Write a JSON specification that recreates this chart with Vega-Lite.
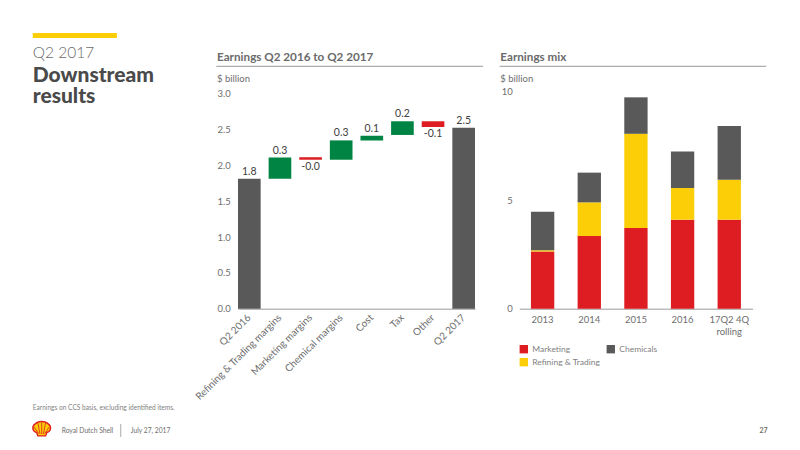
{
  "$schema": "https://vega.github.io/schema/vega-lite/v6.json",
  "description": "Shell Q2 2017 downstream results slide",
  "padding": {"left": 29.7, "top": 32.7, "right": 0, "bottom": 0},
  "background": "white",
  "bounds": "flush",
  "spacing": 44.3,
  "resolve": {"scale": {"color": "independent"}, "legend": {"color": "independent"}},
  "config": {
    "view": {"stroke": null},
    "font": "Lato",
    "axis": {"labelFont": "Lato", "grid": false, "ticks": false, "domainColor": "#999999", "labelColor": "#6e6e6e", "title": null, "labelOverlap": false},
    "title": {"font": "Lato", "subtitleFont": "Lato", "anchor": "start", "frame": "group", "fontSize": 11.7, "fontWeight": "bold", "color": "#6a6a6a", "subtitleFontSize": 9.5, "subtitleColor": "#6e6e6e", "subtitlePadding": 10.5, "offset": 3}
  },
  "hconcat": [
    {
      "width": 160.4,
      "height": 217,
      "encoding": {
        "x": {"datum": 0, "type": "quantitative", "scale": {"domain": [0, 1], "range": [-33, 767], "nice": false, "zero": false}, "axis": null},
        "y": {"datum": 0, "type": "quantitative", "scale": {"domain": [0, 1], "range": [-91.7, 358.3], "nice": false, "zero": false}, "axis": null}
      },
      "layer": [
        {
          "data": {"values": [{"part": "accent"}]},
          "mark": {"type": "rule", "color": "#fbce07", "strokeWidth": 5},
          "encoding": {"x": {"datum": 0.0413}, "x2": {"datum": 0.1465}, "y": {"datum": 0.0789}}
        },
        {
          "data": {"values": [{"text": "Q2 2017"}]},
          "mark": {"type": "text", "align": "left", "baseline": "middle", "fontSize": 15.5, "color": "#6a6a6a", "fontWeight": 300},
          "encoding": {"text": {"field": "text"}, "x": {"datum": 0.0413}, "y": {"datum": 0.1178}}
        },
        {
          "data": {"values": [{"text": "Downstream"}]},
          "mark": {"type": "text", "align": "left", "baseline": "middle", "fontSize": 21, "color": "#4a4a4a", "fontWeight": 900},
          "encoding": {"text": {"field": "text"}, "x": {"datum": 0.0413}, "y": {"datum": 0.1689}}
        },
        {
          "data": {"values": [{"text": "results"}]},
          "mark": {"type": "text", "align": "left", "baseline": "middle", "fontSize": 21, "color": "#4a4a4a", "fontWeight": 900},
          "encoding": {"text": {"field": "text"}, "x": {"datum": 0.0413}, "y": {"datum": 0.2155}}
        },
        {
          "data": {"values": [{"part": "waterfall heading"}]},
          "mark": {"type": "rule", "color": "#999999", "strokeWidth": 1},
          "encoding": {"x": {"datum": 0.2708}, "x2": {"datum": 0.6042}, "y": {"datum": 0.1473}}
        },
        {
          "data": {"values": [{"part": "mix heading"}]},
          "mark": {"type": "rule", "color": "#999999", "strokeWidth": 1},
          "encoding": {"x": {"datum": 0.625}, "x2": {"datum": 0.9583}, "y": {"datum": 0.1473}}
        },
        {
          "data": {"values": [{"text": "Earnings on CCS basis, excluding identified items."}]},
          "mark": {"type": "text", "align": "left", "baseline": "middle", "fontSize": 6.6, "color": "#7f7f7f"},
          "encoding": {"text": {"field": "text"}, "x": {"datum": 0.0413}, "y": {"datum": 0.9067}}
        },
        {
          "data": {"values": [{"text": "Royal Dutch Shell"}]},
          "mark": {"type": "text", "align": "left", "baseline": "middle", "fontSize": 6.7, "color": "#6e6e6e"},
          "encoding": {"text": {"field": "text"}, "x": {"datum": 0.0775}, "y": {"datum": 0.9567}}
        },
        {
          "data": {"values": [{"part": "footer separator"}]},
          "mark": {"type": "rule", "color": "#aaaaaa", "strokeWidth": 1},
          "encoding": {"x": {"datum": 0.1513}, "y": {"datum": 0.9422}, "y2": {"datum": 0.9711}}
        },
        {
          "data": {"values": [{"text": "July 27, 2017"}]},
          "mark": {"type": "text", "align": "left", "baseline": "middle", "fontSize": 6.7, "color": "#6e6e6e"},
          "encoding": {"text": {"field": "text"}, "x": {"datum": 0.1638}, "y": {"datum": 0.9567}}
        },
        {
          "data": {"values": [{"text": "27"}]},
          "mark": {"type": "text", "align": "right", "baseline": "middle", "fontSize": 7, "fontWeight": "bold", "color": "#6e6e6e"},
          "encoding": {"text": {"field": "text"}, "x": {"datum": 0.96}, "y": {"datum": 0.9567}}
        },
        {
          "data": {"values": [{"part": "logo"}]},
          "mark": {"type": "point", "filled": true, "size": 340, "fill": "#fbce07", "stroke": "#dd1d21", "strokeWidth": 1.4, "opacity": 1, "shape": "M-0.42,0.75 L0.42,0.75 L0.55,0.38 C1.05,0.25 1.08,-0.3 0.7,-0.55 C0.4,-0.9 -0.4,-0.9 -0.7,-0.55 C-1.08,-0.3 -1.05,0.25 -0.55,0.38 Z"},
          "encoding": {"x": {"datum": 0.0525}, "y": {"datum": 0.9533}}
        },
        {
          "data": {"values": [{"part": "logo ribs"}]},
          "mark": {"type": "point", "filled": false, "size": 340, "stroke": "#dd1d21", "strokeWidth": 0.8, "opacity": 1, "shape": "M0,0.55 L0,-0.7 M-0.18,0.55 L-0.42,-0.65 M0.18,0.55 L0.42,-0.65 M-0.32,0.5 L-0.8,-0.2 M0.32,0.5 L0.8,-0.2"},
          "encoding": {"x": {"datum": 0.0525}, "y": {"datum": 0.9533}}
        }
      ]
    },
    {
      "width": 237,
      "height": 217,
      "title": {"text": "Earnings Q2 2016 to Q2 2017", "subtitle": "$ billion", "dx": -21, "offset": 5.3},
      "data": {
        "values": [
          {"step": "Q2 2016", "low": 0, "high": 1.815, "label": "1.8", "kind": "total"},
          {"step": "Refining & Trading margins", "low": 1.815, "high": 2.11, "label": "0.3", "kind": "up"},
          {"step": "Marketing margins", "low": 2.08, "high": 2.115, "label": "-0.0", "kind": "down"},
          {"step": "Chemical margins", "low": 2.08, "high": 2.35, "label": "0.3", "kind": "up"},
          {"step": "Cost", "low": 2.35, "high": 2.416, "label": "0.1", "kind": "up"},
          {"step": "Tax", "low": 2.426, "high": 2.617, "label": "0.2", "kind": "up"},
          {"step": "Other", "low": 2.537, "high": 2.617, "label": "-0.1", "kind": "down"},
          {"step": "Q2 2017", "low": 0, "high": 2.528, "label": "2.5", "kind": "total"}
        ]
      },
      "encoding": {
        "x": {
          "field": "step",
          "type": "nominal",
          "sort": null,
          "scale": {"paddingInner": 0.26, "paddingOuter": 0},
          "axis": {"labelAngle": -45, "labelAlign": "right", "labelBaseline": "middle", "labelFontSize": 10, "labelPadding": 7}
        }
      },
      "layer": [
        {
          "mark": {"type": "bar"},
          "encoding": {
            "y": {
              "field": "low",
              "type": "quantitative",
              "scale": {"domain": [0, 3.03], "nice": false},
              "axis": {"values": [0, 0.5, 1, 1.5, 2, 2.5, 3], "format": ".1f", "domain": false, "labelAlign": "left", "labelPadding": 21, "labelFontSize": 9.5}
            },
            "y2": {"field": "high"},
            "color": {
              "field": "kind",
              "type": "nominal",
              "scale": {"domain": ["total", "up", "down"], "range": ["#595959", "#008443", "#dd1d21"]},
              "legend": null
            }
          }
        },
        {
          "transform": [{"filter": "datum.kind !== 'down'"}],
          "mark": {"type": "text", "baseline": "bottom", "dy": -2, "fontSize": 10.5, "color": "#404040"},
          "encoding": {
            "y": {
              "field": "high",
              "type": "quantitative",
              "axis": {"values": [0, 0.5, 1, 1.5, 2, 2.5, 3], "format": ".1f", "domain": false, "labelAlign": "left", "labelPadding": 21, "labelFontSize": 9.5}
            },
            "text": {"field": "label"}
          }
        },
        {
          "transform": [{"filter": "datum.kind === 'down'"}],
          "mark": {"type": "text", "baseline": "top", "dy": 2, "fontSize": 10.5, "color": "#404040"},
          "encoding": {
            "y": {
              "field": "low",
              "type": "quantitative",
              "axis": {"values": [0, 0.5, 1, 1.5, 2, 2.5, 3], "format": ".1f", "domain": false, "labelAlign": "left", "labelPadding": 21, "labelFontSize": 9.5}
            },
            "text": {"field": "label"}
          }
        }
      ]
    },
    {
      "width": 233.3,
      "height": 217,
      "title": {"text": "Earnings mix", "subtitle": "$ billion", "dx": -19},
      "data": {
        "values": [
          {"period": "2013", "segment": "Marketing", "stack": 1, "earnings": 2.63},
          {"period": "2013", "segment": "Refining & Trading", "stack": 2, "earnings": 0.06},
          {"period": "2013", "segment": "Chemicals", "stack": 3, "earnings": 1.78},
          {"period": "2014", "segment": "Marketing", "stack": 1, "earnings": 3.35},
          {"period": "2014", "segment": "Refining & Trading", "stack": 2, "earnings": 1.55},
          {"period": "2014", "segment": "Chemicals", "stack": 3, "earnings": 1.37},
          {"period": "2015", "segment": "Marketing", "stack": 1, "earnings": 3.72},
          {"period": "2015", "segment": "Refining & Trading", "stack": 2, "earnings": 4.34},
          {"period": "2015", "segment": "Chemicals", "stack": 3, "earnings": 1.68},
          {"period": "2016", "segment": "Marketing", "stack": 1, "earnings": 4.1},
          {"period": "2016", "segment": "Refining & Trading", "stack": 2, "earnings": 1.46},
          {"period": "2016", "segment": "Chemicals", "stack": 3, "earnings": 1.68},
          {"period": "17Q2 4Q rolling", "segment": "Marketing", "stack": 1, "earnings": 4.1},
          {"period": "17Q2 4Q rolling", "segment": "Refining & Trading", "stack": 2, "earnings": 1.84},
          {"period": "17Q2 4Q rolling", "segment": "Chemicals", "stack": 3, "earnings": 2.48}
        ]
      },
      "mark": "bar",
      "encoding": {
        "x": {
          "field": "period",
          "type": "nominal",
          "sort": null,
          "scale": {"paddingInner": 0.5, "paddingOuter": 0.25},
          "axis": {"labelAngle": 0, "labelFontSize": 9.5, "labelPadding": 6, "labelExpr": "datum.label == '17Q2 4Q rolling' ? ['17Q2 4Q', 'rolling'] : datum.label"}
        },
        "y": {
          "field": "earnings",
          "type": "quantitative",
          "stack": "zero",
          "scale": {"domain": [0, 10], "nice": false},
          "axis": {"values": [0, 5, 10], "domain": false, "labelPadding": 7, "labelFontSize": 9.5}
        },
        "order": {"field": "stack"},
        "color": {
          "field": "segment",
          "type": "nominal",
          "scale": {"domain": ["Marketing", "Refining & Trading", "Chemicals"], "range": ["#dd1d21", "#fbce07", "#595959"]},
          "legend": {
            "title": null,
            "orient": "none",
            "legendX": 0,
            "legendY": 253,
            "columns": 2,
            "symbolType": "square",
            "symbolSize": 70,
            "symbolStrokeWidth": 0,
            "labelFont": "Lato",
            "labelFontSize": 8.5,
            "labelColor": "#7f7f7f",
            "columnPadding": 5,
            "rowPadding": 4
          }
        }
      }
    }
  ]
}
